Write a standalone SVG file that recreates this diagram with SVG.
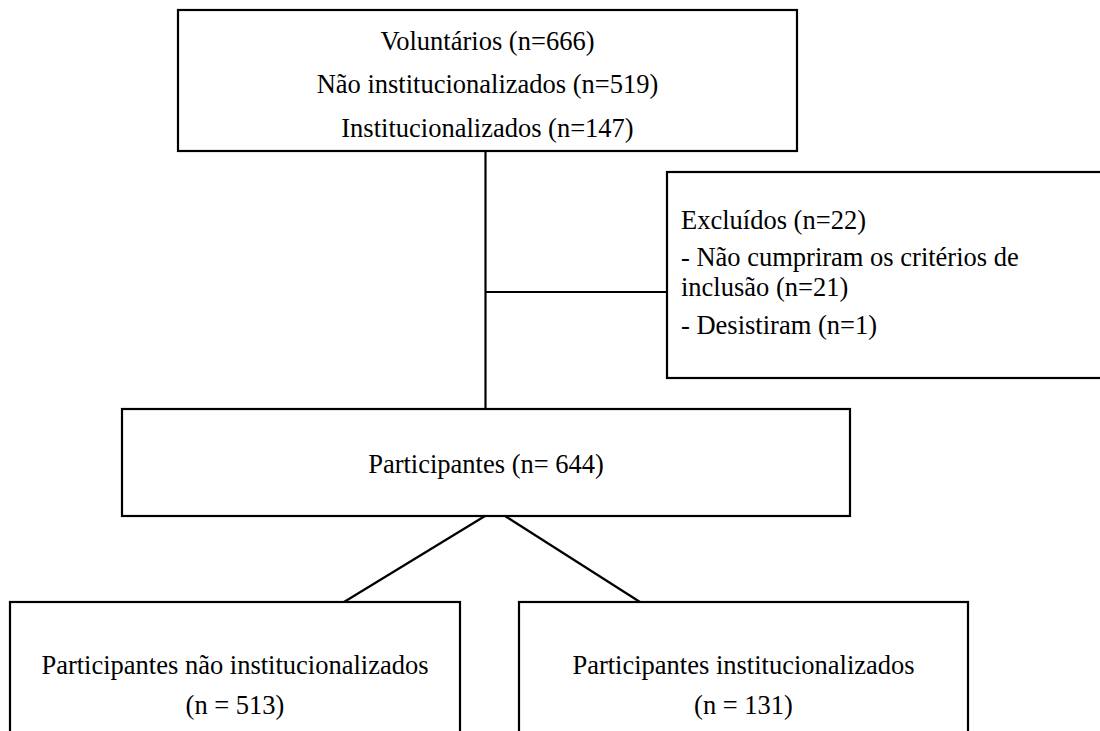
<svg xmlns="http://www.w3.org/2000/svg" width="1100" height="731" viewBox="0 0 1100 731">
<style>
.box{fill:#fff;stroke:#000;stroke-width:2.2}
.ln{stroke:#000;stroke-width:2.2;fill:none}
text{font-family:"Liberation Serif","Times New Roman",serif;font-size:26.5px;fill:#000}
.c{text-anchor:middle}
</style>
<rect width="1100" height="731" fill="#fff"/>
<g id="connectors">
<line class="ln" x1="485.5" y1="151" x2="485.5" y2="409"/>
<line class="ln" x1="485.5" y1="292" x2="667" y2="292"/>
<line class="ln" x1="485" y1="516" x2="344" y2="602"/>
<line class="ln" x1="505" y1="516" x2="640" y2="602"/>
</g>
<g id="voluntarios">
<rect class="box" x="178" y="10" width="619" height="141"/>
<text class="c" x="487.5" y="50">Voluntários (n=666)</text>
<text class="c" x="487.5" y="93">Não institucionalizados (n=519)</text>
<text class="c" x="487.5" y="137">Institucionalizados (n=147)</text>
</g>
<g id="excluidos">
<rect class="box" x="667" y="172" width="440" height="206"/>
<text x="681" y="229">Excluídos (n=22)</text>
<text x="681" y="266">- Não cumpriram os critérios de</text>
<text x="681" y="296">inclusão (n=21)</text>
<text x="681" y="334">- Desistiram (n=1)</text>
</g>
<g id="participantes">
<rect class="box" x="122" y="409" width="728" height="107"/>
<text class="c" x="486" y="473">Participantes (n= 644)</text>
</g>
<g id="nao-institucionalizados">
<rect class="box" x="10" y="602" width="450" height="140"/>
<text class="c" x="235" y="674">Participantes não institucionalizados</text>
<text class="c" x="235" y="714">(n = 513)</text>
</g>
<g id="institucionalizados">
<rect class="box" x="519" y="602" width="449" height="140"/>
<text class="c" x="743.5" y="674">Participantes institucionalizados</text>
<text class="c" x="743.5" y="714">(n = 131)</text>
</g>
</svg>
